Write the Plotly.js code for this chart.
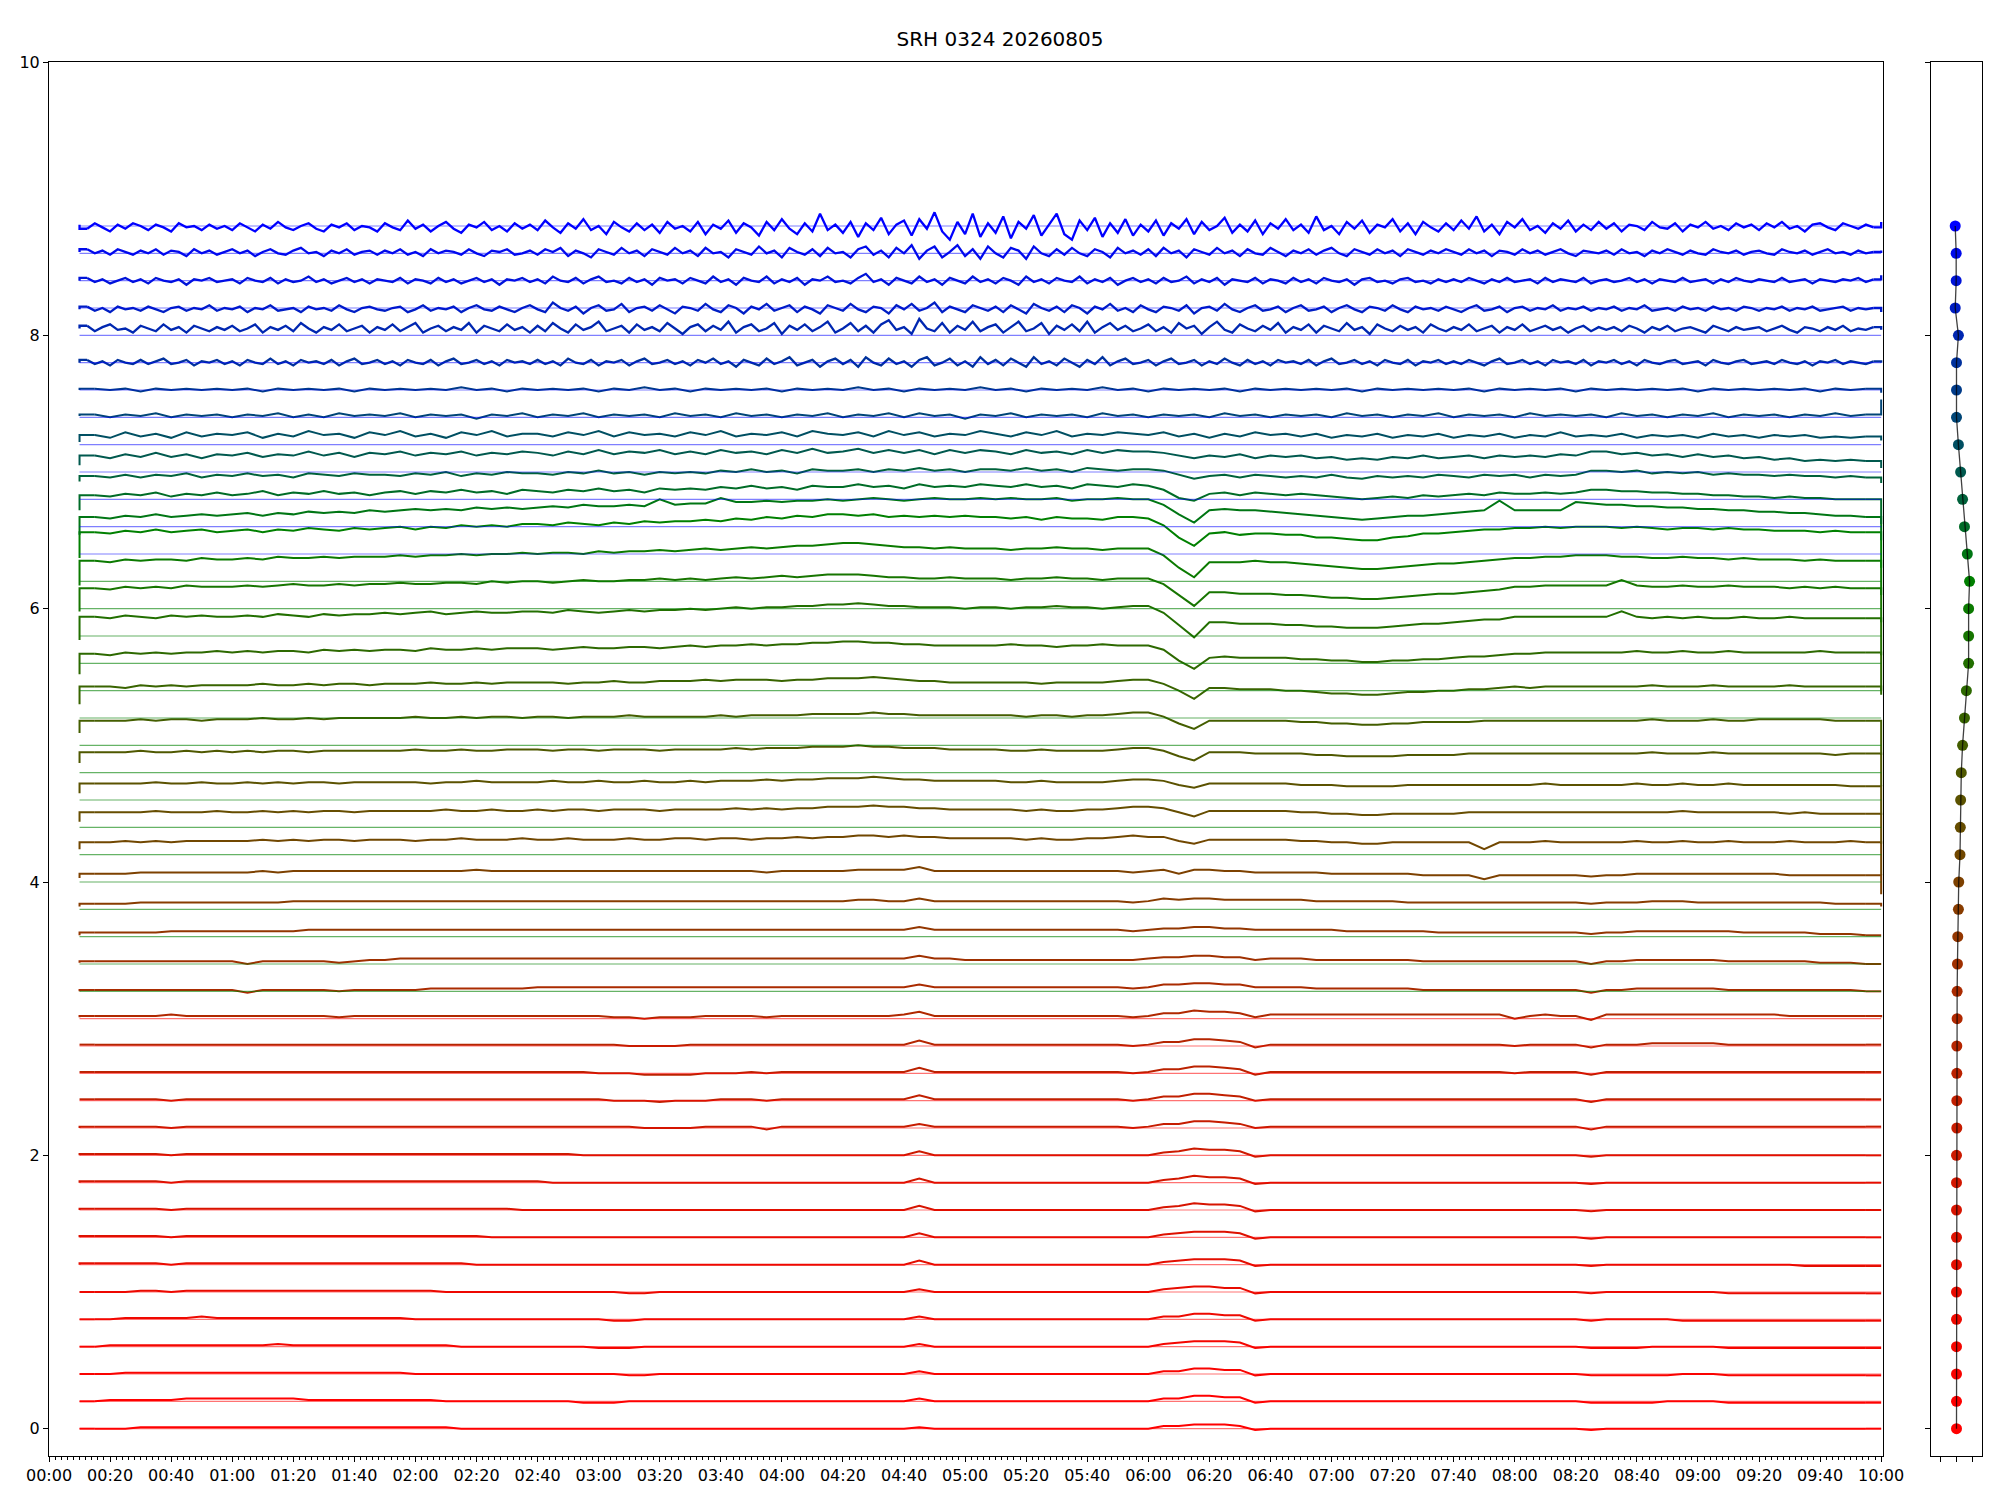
<!DOCTYPE html>
<html>
<head>
<meta charset="utf-8">
<script src="https://cdn.plot.ly/plotly-3.0.1.min.js"></script>
<style>html,body{margin:0;padding:0;background:#fff}#chart{width:2000px;height:1500px}</style>
</head>
<body>
<div id="chart"></div>
<script>
// ---------------- data ----------------
const chartTitle = "SRH 0324 20260805";
// channel base levels (vertical offsets of the 45 channels)
const offsets = [0,0.2,0.4,0.6,0.8,1.0,1.2,1.4,1.6,1.8,2.0,2.2,2.4,2.6,2.8,3.0,3.2,3.4,3.6,3.8,4.0,4.2,4.4,4.6,4.8,5.0,5.2,5.4,5.6,5.8,6.0,6.2,6.4,6.6,6.8,7.0,7.2,7.4,7.6,7.8,8.0,8.2,8.4,8.6,8.8];
// mean deviation of each channel (right panel dots)
const meanDev = [0,0,0,0,0,0,0,0,0,0,0,0.01,0.01,0.01,0.01,0.02,0.02,0.03,0.04,0.06,0.07,0.11,0.12,0.13,0.15,0.19,0.25,0.31,0.38,0.38,0.38,0.41,0.34,0.25,0.19,0.13,0.06,0,0,0,0.06,-0.04,-0.01,-0.01,-0.04];
// time axis (minutes from 00:00)
const tickVals = [0,20,40,60,80,100,120,140,160,180,200,220,240,260,280,300,320,340,360,380,400,420,440,460,480,500,520,540,560,580,600];
const tickText = ["00:00","00:20","00:40","01:00","01:20","01:40","02:00","02:20","02:40","03:00","03:20","03:40","04:00","04:20","04:40","05:00","05:20","05:40","06:00","06:20","06:40","07:00","07:20","07:40","08:00","08:20","08:40","09:00","09:20","09:40","10:00"];
const startMin = 10;     // first sample 00:10
const stepCoarse = 5;    // channels 0..38 sampled every 5 min
const stepFine = 2.5;    // channels 39..44 sampled every 2.5 min
// deviations from the channel level, in hundredths
const ch00 = [0,0,0,0,1,1,1,1,1,1, 1,1,1,1,1,1,1,1,1,1, 1,1,1,1,1,0,0,0,0,0, 0,0,0,0,0,0,0,0,0,0, 0,0,0,0,0,0,0,0,0,0, 0,0,0,0,0,1,0,0,0,0, 0,0,0,0,0,0,0,0,0,0, 0,2,2,3,3,3,2,-1,0,0, 0,0,0,0,0,0,0,0,0,0, 0,0,0,0,0,0,0,0,0,-1, 0,0,0,0,0,0,0,0,0,0, 0,0,0,0,0,0,0,0,0];
const ch01 = [0,0,1,1,1,1,1,2,2,2, 2,2,2,2,2,1,1,1,1,1, 1,1,1,1,0,0,0,0,0,0, 0,0,0,-1,-1,-1,0,0,0,0, 0,0,0,0,0,0,0,0,0,0, 0,0,0,0,0,2,0,0,0,0, 0,0,0,0,0,0,0,0,0,0, 0,2,2,4,4,3,3,-1,0,0, 0,0,0,0,0,0,0,0,0,0, 0,0,0,0,0,0,0,0,0,-1, -1,-1,-1,-1,0,0,0,0,-1,-1, -1,-1,-1,-1,-1,-1,-1,-1,-1];
const ch02 = [0,0,0,1,1,1,1,1,1,1, 1,1,1,1,1,1,1,1,1,1, 1,1,0,0,0,0,0,0,0,0, 0,0,0,0,0,0,-1,-1,0,0, 0,0,0,0,0,0,0,0,0,0, 0,0,0,0,0,2,0,0,0,0, 0,0,0,0,0,0,0,0,0,0, 0,2,2,4,4,3,3,-1,0,0, 0,0,0,0,0,0,0,0,0,0, 0,0,0,0,0,0,0,0,0,-1, -1,-1,-1,-1,-1,0,0,0,-1,-1, -1,-1,-1,-1,-1,-1,-1,-1,-1];
const ch03 = [0,0,1,1,1,1,1,1,1,1, 1,1,1,2,1,1,1,1,1,1, 1,1,1,1,1,0,0,0,0,0, 0,0,0,0,-1,-1,-1,0,0,0, 0,0,0,0,0,0,0,0,0,0, 0,0,0,0,0,2,0,0,0,0, 0,0,0,0,0,0,0,0,0,0, 0,2,3,4,4,4,3,-1,0,0, 0,0,0,0,0,0,0,0,0,0, 0,0,0,0,0,0,0,0,0,-1, -1,-1,-1,0,0,0,0,0,-1,-1, -1,-1,-1,-1,-1,-1,-1,-1,-1];
const ch04 = [0,0,0,1,1,1,1,1,2,1, 1,1,1,1,1,1,1,1,1,1, 1,1,0,0,0,0,0,0,0,0, 0,0,0,0,0,-1,-1,0,0,0, 0,0,0,0,0,0,0,0,0,0, 0,0,0,0,0,2,0,0,0,0, 0,0,0,0,0,0,0,0,0,0, 0,2,2,4,4,3,3,-1,0,0, 0,0,0,0,0,0,0,0,0,0, 0,0,0,0,0,0,0,0,0,-1, 0,0,0,0,0,-1,-1,-1,-1,-1, -1,-1,-1,-1,-1,-1,-1,-1,-1];
const ch05 = [0,0,0,0,1,1,0,1,1,1, 1,1,1,1,1,1,1,1,1,1, 1,1,1,1,0,0,0,0,0,0, 0,0,0,0,0,0,-1,-1,0,0, 0,0,0,0,0,0,0,0,0,0, 0,0,0,0,0,2,0,0,0,0, 0,0,0,0,0,0,0,0,0,0, 0,2,3,4,4,3,3,-1,0,0, 0,0,0,0,0,0,0,0,0,0, 0,0,0,0,0,0,0,0,0,-1, 0,0,0,0,0,0,0,0,-1,-1, -1,-1,-1,-1,-1,-1,-1,-1,-1];
const ch06 = [0,1,1,1,1,1,0,1,1,1, 1,1,1,1,1,1,1,1,1,1, 1,1,1,1,1,1,0,0,0,0, 0,0,0,0,0,0,0,0,0,0, 0,0,0,0,0,0,0,0,0,0, 0,0,0,0,0,3,0,0,0,0, 0,0,0,0,0,0,0,0,0,0, 0,2,3,4,4,4,3,-1,0,0, 0,0,0,0,0,0,0,0,0,0, 0,0,0,0,0,0,0,0,0,-1, 0,0,0,0,0,0,0,0,0,0, 0,0,0,-1,-1,-1,-1,-1,-1];
const ch07 = [0,1,1,1,1,1,0,1,1,1, 1,1,1,1,1,1,1,1,1,1, 1,1,1,1,1,1,1,0,0,0, 0,0,0,0,0,0,0,0,0,0, 0,0,0,0,0,0,0,0,0,0, 0,0,0,0,0,3,0,0,0,0, 0,0,0,0,0,0,0,0,0,0, 0,2,3,4,4,4,3,-1,0,0, 0,0,0,0,0,0,0,0,0,0, 0,0,0,0,0,0,0,0,0,-1, 0,0,0,0,0,0,0,0,0,0, 0,0,0,0,0,0,0,0,0];
const ch08 = [0,1,1,1,1,1,0,1,1,1, 1,1,1,1,1,1,1,1,1,1, 1,1,1,1,1,1,1,1,1,0, 0,0,0,0,0,0,0,0,0,0, 0,0,0,0,0,0,0,0,0,0, 0,0,0,0,0,3,0,0,0,0, 0,0,0,0,0,0,0,0,0,0, 0,2,3,5,4,4,3,-1,0,0, 0,0,0,0,0,0,0,0,0,0, 0,0,0,0,0,0,0,0,0,-1, 0,0,0,0,0,0,0,0,0,0, 0,0,0,0,0,0,0,0,0];
const ch09 = [0,1,1,1,1,1,0,1,1,1, 1,1,1,1,1,1,1,1,1,1, 1,1,1,1,1,1,1,1,1,1, 1,0,0,0,0,0,0,0,0,0, 0,0,0,0,0,0,0,0,0,0, 0,0,0,0,0,3,0,0,0,0, 0,0,0,0,0,0,0,0,0,0, 0,2,3,5,4,4,3,-1,0,0, 0,0,0,0,0,0,0,0,0,0, 0,0,0,0,0,0,0,0,0,-1, 0,0,0,0,0,0,0,0,0,0, 0,0,0,0,0,0,0,0,0];
const ch10 = [0,1,1,1,1,1,0,1,1,1, 1,1,1,1,1,1,1,1,1,1, 1,1,1,1,1,1,1,1,1,1, 1,1,1,0,0,0,0,0,0,0, 0,0,0,0,0,0,0,0,0,0, 0,0,0,0,0,3,0,0,0,0, 0,0,0,0,0,0,0,0,0,0, 0,2,3,5,4,4,3,-1,0,0, 0,0,0,0,0,0,0,0,0,0, 0,0,0,0,0,0,0,0,0,-1, 0,0,0,0,0,0,0,0,0,0, 0,0,0,0,0,0,0,0,0];
const ch11 = [0,1,1,1,1,1,0,1,1,1, 1,1,1,1,1,1,1,1,1,1, 1,1,1,1,1,1,1,1,1,1, 1,1,1,1,1,1,1,0,0,0, 0,1,1,1,1,-1,1,1,1,1, 1,1,1,1,1,3,1,1,1,1, 1,1,1,1,1,1,1,1,1,0, 1,3,3,5,5,4,3,0,1,1, 1,1,1,1,1,1,1,1,1,1, 1,1,1,1,1,1,1,1,1,-1, 1,1,1,1,1,1,1,1,1,1, 1,1,1,1,1,1,1,1,1];
const ch12 = [1,1,1,1,1,1,0,1,1,1, 1,1,1,1,1,1,1,1,1,1, 1,1,1,1,1,1,1,1,1,1, 1,1,1,1,1,0,0,0,-1,0, 0,0,1,1,1,0,1,1,1,1, 1,1,1,1,1,4,1,1,1,1, 1,1,1,1,1,1,1,1,1,0, 1,3,3,5,5,4,3,0,1,1, 1,1,1,1,1,1,1,1,1,1, 1,1,1,1,1,1,1,1,1,-1, 1,1,1,1,1,1,1,1,1,1, 1,1,1,1,1,1,1,1,1];
const ch13 = [1,1,1,1,1,1,1,1,1,1, 1,1,1,1,1,1,1,1,1,1, 1,1,1,1,1,1,1,1,1,1, 1,1,1,1,0,0,0,-1,-1,-1, -1,0,0,0,1,0,1,1,1,1, 1,1,1,1,1,4,1,1,1,1, 1,1,1,1,1,1,1,1,1,0, 1,3,3,5,5,4,3,-1,1,1, 1,1,1,1,1,1,1,1,1,1, 1,1,1,1,0,1,1,1,1,-1, 1,1,1,1,1,1,1,1,1,1, 1,1,1,1,1,1,1,1,1];
const ch14 = [1,1,1,1,1,1,1,1,1,1, 1,1,1,1,1,1,1,1,1,1, 1,1,1,1,1,1,1,1,1,1, 1,1,1,1,1,1,0,0,0,0, 1,1,1,1,1,1,1,1,1,1, 1,1,1,1,1,4,1,1,1,1, 1,1,1,1,1,1,1,1,1,0, 1,3,3,5,5,4,3,-1,1,1, 1,1,1,1,1,1,1,1,1,1, 1,1,1,1,0,1,1,1,1,-1, 1,1,1,2,2,2,2,2,1,1, 1,1,1,1,1,1,1,1,1];
const ch15 = [1,2,2,2,2,2,3,2,2,2, 2,2,2,2,2,2,2,1,2,2, 2,2,2,2,2,2,2,2,2,2, 2,2,2,2,2,1,1,0,1,1, 1,2,2,2,2,1,2,2,2,2, 2,2,2,2,3,5,2,2,2,2, 2,2,2,2,2,2,2,2,2,1, 2,4,4,6,5,5,4,1,3,3, 3,3,3,3,3,3,3,3,3,3, 3,3,3,3,0,2,3,2,2,-1, 3,3,3,3,3,3,3,3,3,3, 3,3,2,2,2,2,2,2,1];
const ch16 = [0,1,1,1,1,1,1,1,1,1, 1,-1,1,1,1,1,1,0,1,1, 1,1,1,2,2,2,2,2,2,2, 3,3,3,3,3,3,3,3,3,3, 3,3,3,3,3,3,3,3,3,3, 3,3,3,3,3,5,3,3,3,3, 3,3,3,3,3,3,3,3,3,2, 3,5,5,6,6,5,5,3,3,3, 3,2,2,2,2,2,2,2,1,1, 1,1,1,1,1,1,1,1,1,-1, 1,1,2,2,2,2,2,2,1,1, 1,1,1,1,1,1,1,0,0];
const ch17 = [1,2,2,2,2,2,2,2,2,2, 2,0,2,2,2,2,2,1,2,3, 3,4,4,4,4,4,4,4,4,4, 4,4,4,4,4,4,4,4,4,4, 4,4,4,4,4,4,4,4,4,4, 4,4,4,4,4,6,4,4,3,3, 3,3,3,3,3,3,3,3,3,3, 4,5,5,6,6,5,5,3,4,4, 4,3,3,3,3,3,3,3,2,2, 2,2,2,2,2,2,2,2,2,0, 2,2,3,3,3,3,3,3,2,2, 2,2,2,2,1,1,1,0,0];
const ch18 = [1,3,3,3,3,3,4,4,4,4, 4,4,4,4,4,5,5,5,5,5, 5,5,5,5,5,5,5,5,5,5, 5,5,5,5,5,5,5,5,5,5, 5,5,5,5,5,5,5,5,5,5, 5,5,5,5,5,7,5,5,5,5, 5,5,5,5,5,5,5,5,5,4, 5,6,6,7,7,6,6,5,5,5, 5,5,5,4,4,4,4,4,4,3, 3,3,3,3,3,3,3,3,3,2, 3,3,4,4,4,4,4,4,4,3, 3,3,3,3,2,2,2,1,1];
const ch19 = [2,4,4,4,5,5,5,5,5,5, 5,5,5,5,6,6,6,6,6,6, 6,6,6,6,6,6,6,6,6,6, 6,6,6,6,6,6,6,6,6,6, 6,6,6,6,6,6,6,6,6,6, 6,7,7,6,6,8,6,6,6,6, 6,6,6,6,6,6,6,6,6,5, 6,8,7,8,8,7,7,7,7,7, 7,6,6,6,6,6,6,5,5,5, 5,5,5,5,5,5,5,5,5,4, 5,5,5,6,6,6,5,5,5,5, 5,5,5,5,5,4,4,4,2];
const ch20 = [3,6,6,6,7,7,7,7,7,7, 7,7,8,7,8,8,8,8,8,8, 8,8,8,8,8,8,9,8,8,8, 8,8,8,8,8,8,8,8,8,8, 8,8,8,8,8,7,8,8,8,8, 8,9,9,9,9,11,8,8,8,8, 8,8,8,8,8,8,8,8,8,7, 8,9,6,9,9,8,8,7,7,7, 7,7,6,6,6,6,6,6,5,5, 5,5,2,5,5,5,5,5,5,4, 5,5,6,6,6,6,6,6,6,6, 6,6,5,5,5,5,5,5,-9];
const ch21 = [4,9,9,10,9,10,9,10,10,10, 10,10,11,10,11,10,11,11,10,11, 11,11,10,11,11,12,11,11,11,12, 11,11,12,11,11,11,12,11,11,12, 12,11,12,12,11,12,12,13,12,13, 13,14,14,13,14,13,13,12,12,12, 12,12,11,12,11,11,12,12,13,14, 13,13,10,8,11,11,11,11,11,11, 10,10,9,9,8,8,9,9,9,9, 9,9,4,9,9,9,10,9,9,9, 9,9,10,9,9,10,9,9,10,9, 9,9,10,9,9,9,10,9,-15];
const ch22 = [4,11,11,11,11,12,11,11,11,12, 11,11,12,11,12,11,12,12,11,12, 12,12,12,12,13,12,12,13,12,12, 13,12,13,13,12,13,13,13,12,13, 13,13,13,14,13,14,13,14,14,15, 15,15,16,15,15,14,14,13,13,13, 13,13,12,13,12,12,13,13,14,15, 15,14,11,8,12,12,12,12,12,12, 11,11,10,10,9,9,10,10,10,10, 10,11,11,11,11,11,11,11,11,11, 11,11,11,11,11,12,11,11,11,11, 11,11,10,11,10,10,10,10,-12];
const ch23 = [5,12,12,12,12,13,12,12,13,12, 12,13,12,13,12,13,13,12,13,13, 13,13,13,12,13,13,14,13,13,13, 13,14,13,13,14,13,13,14,13,13, 14,13,14,14,14,15,14,15,15,16, 16,16,17,16,15,15,14,14,14,14, 14,13,13,14,13,13,13,13,14,15, 15,14,11,9,12,12,12,12,12,12, 11,11,11,10,10,10,10,11,11,11, 11,11,11,11,11,11,12,11,11,11, 11,11,12,11,11,12,11,11,12,11, 11,11,11,11,11,11,10,10,-11];
const ch24 = [7,15,15,15,16,15,15,16,15,16, 15,16,15,16,16,15,16,16,16,16, 16,16,17,16,16,17,16,16,17,17, 17,16,17,17,16,17,17,17,16,17, 17,17,17,18,17,18,18,18,19,19, 19,20,19,19,18,18,18,17,17,17, 17,16,16,17,16,16,16,16,17,18, 18,16,12,9,15,15,15,14,14,14, 14,13,13,12,12,12,12,13,13,13, 13,14,14,14,14,14,14,14,14,14, 14,14,14,15,14,14,14,15,14,14, 14,14,14,14,14,13,14,14,-10];
const ch25 = [9,18,18,18,19,18,19,19,18,19, 19,19,20,19,19,20,19,20,20,20, 20,20,21,20,20,21,20,21,21,20, 21,21,20,21,21,21,22,21,21,21, 21,21,22,21,22,22,22,22,23,23, 23,23,24,23,23,22,22,22,22,22, 22,22,21,22,22,21,22,22,23,24, 24,21,16,12,18,18,18,18,18,18, 17,17,16,16,15,15,16,16,17,17, 17,17,18,18,18,18,18,18,18,18, 18,18,18,19,18,18,18,19,18,18, 19,19,19,19,19,18,18,18,-7];
const ch26 = [10,23,23,22,24,23,24,23,24,24, 24,24,25,24,24,25,24,25,25,24, 25,25,25,26,25,25,26,25,26,26, 26,26,25,26,26,27,26,26,27,27, 27,28,27,28,28,28,27,28,28,29, 29,29,30,29,28,27,27,26,26,26, 26,26,26,25,26,26,26,26,27,28, 28,25,20,14,22,22,21,21,21,20, 20,19,18,18,17,17,18,19,19,20, 20,21,21,22,23,22,23,23,23,23, 23,23,23,24,23,23,23,24,23,23, 23,23,24,23,23,23,23,23,20];
const ch27 = [12,27,26,28,27,28,27,28,28,29, 28,29,28,29,29,28,30,29,30,29, 30,30,29,31,30,30,31,30,31,31, 31,30,31,32,31,31,32,32,31,32, 33,32,33,33,34,33,34,34,35,35, 36,36,35,35,34,34,33,33,33,33, 33,34,33,33,32,33,33,34,33,33, 33,30,22,16,24,25,24,24,24,24, 23,23,22,22,21,21,22,22,23,23, 24,25,25,26,27,27,28,28,28,28, 28,28,29,28,28,29,28,28,29,28, 28,28,28,28,29,28,28,28,-3];
const ch28 = [17,34,33,35,34,33,35,34,35,34, 34,35,34,36,35,34,36,35,36,36, 37,36,37,38,36,37,38,37,37,38, 38,37,39,38,37,38,39,38,39,39, 40,39,40,41,40,41,41,42,42,43, 43,44,43,42,42,41,41,41,40,41, 41,40,41,41,42,41,41,40,41,42, 42,37,28,19,30,30,29,29,29,28, 28,27,27,26,26,26,27,28,29,29, 30,31,32,32,34,34,34,34,34,34, 34,38,34,33,34,33,34,33,33,34, 33,33,34,33,33,33,33,33,6];
const ch29 = [18,35,34,36,35,36,35,37,36,36, 36,37,36,37,38,37,37,38,37,38, 38,39,38,38,39,39,38,40,39,40, 40,39,40,41,40,40,41,41,42,41, 42,41,42,43,42,43,44,43,44,45, 45,45,44,43,43,42,42,43,42,42, 42,41,42,42,43,42,42,41,42,42, 42,38,30,22,32,32,31,31,31,30, 30,29,28,28,27,27,28,29,30,31, 31,32,33,34,36,36,37,37,37,37, 37,41,37,36,36,37,36,36,37,36, 36,36,35,36,35,36,35,35,10];
const ch30 = [17,35,34,36,35,36,36,35,37,36, 36,37,36,38,37,37,38,37,38,38, 38,39,38,39,39,40,39,40,40,41, 40,41,41,40,42,41,42,42,43,42, 43,44,43,44,45,44,45,46,46,47, 48,48,47,46,45,45,44,45,44,44, 44,43,44,44,45,44,44,43,44,44, 44,39,30,23,34,34,34,35,34,34, 33,32,31,30,29,29,30,31,32,33, 33,34,35,36,37,37,38,38,39,39, 39,38,38,37,37,38,37,37,36,37, 36,36,36,35,36,35,35,35,10];
const ch31 = [17,36,35,37,36,38,36,37,38,36, 37,38,36,38,37,39,38,37,39,38, 39,40,38,40,39,41,40,41,40,42, 42,41,43,42,41,43,42,44,43,44, 44,45,44,46,45,47,46,48,47,49, 49,48,49,47,48,47,48,47,48,47, 47,46,47,45,47,46,46,45,47,47, 46,41,32,26,35,36,34,35,35,34, 34,32,32,31,30,30,32,33,35,35, 36,37,38,38,39,39,40,39,40,40, 40,39,40,39,38,39,39,38,39,38, 38,37,37,37,36,37,36,36,10];
const ch32 = [14,27,26,28,27,29,27,28,29,28, 29,30,28,30,29,31,30,31,30,32, 31,32,33,32,33,32,34,33,34,33, 34,35,34,36,35,35,36,35,40,36, 37,37,41,38,38,39,38,39,39,40, 39,40,41,40,39,40,41,40,40,41, 40,41,40,40,41,39,40,40,41,40, 40,36,29,23,32,33,32,32,31,30, 29,28,27,26,25,26,27,28,28,29, 30,31,32,39,32,32,32,32,38,37, 36,36,35,35,34,34,33,33,32,32, 31,31,30,30,29,28,28,27,10];
const ch33 = [12,23,22,24,23,25,22,24,23,25, 23,24,26,23,25,24,26,24,25,23, 25,26,24,26,25,27,25,26,24,27, 26,25,27,26,28,26,27,25,28,27, 28,27,29,28,30,28,29,27,30,29, 29,31,29,30,28,31,29,30,29,31, 30,29,31,29,30,28,31,30,29,31, 30,27,21,19,24,25,23,25,24,23, 24,23,22,21,20,21,22,21,23,22, 23,24,23,25,24,24,25,24,25,27, 27,26,26,25,25,24,24,23,23,22, 22,21,22,21,21,20,20,20,2];
const ch34 = [13,17,16,18,16,18,17,19,16,18, 17,19,17,18,16,19,18,17,19,18, 18,17,19,18,20,17,19,18,20,19, 19,18,20,19,21,19,20,18,20,19, 20,19,21,20,22,20,21,19,22,21, 21,22,20,22,21,23,21,22,20,22, 22,21,23,21,22,20,23,22,21,22, 22,21,18,15,17,18,16,18,17,16, 17,16,18,16,15,17,16,17,16,18, 17,16,18,17,18,16,18,17,18,21, 21,20,21,19,20,19,20,18,19,18, 18,17,18,17,17,16,17,16,12];
const ch35 = [5,12,10,13,11,14,11,13,10,13, 12,14,11,13,12,15,12,14,11,14, 13,15,12,14,13,15,12,14,13,15, 14,12,15,13,16,13,15,14,16,13, 15,13,16,14,15,13,16,14,17,14, 15,17,14,16,14,16,13,16,14,16, 15,13,16,14,15,13,16,14,16,15, 15,14,12,10,12,11,13,10,12,11, 12,10,11,9,10,9,11,10,12,10, 11,12,10,12,11,12,11,13,12,15, 15,13,14,12,13,11,13,11,12,10, 11,9,10,8,9,8,9,8,3];
const ch36 = [2,7,5,9,6,8,5,9,6,8, 7,9,5,8,6,10,7,8,5,9, 7,10,6,8,5,9,7,10,6,8, 8,6,9,7,10,6,9,7,8,6, 9,7,10,6,8,7,9,6,10,8, 7,9,6,10,7,9,6,8,7,10, 8,6,9,7,10,6,8,7,9,8, 7,9,6,8,5,8,6,9,7,8, 6,8,5,7,6,8,5,7,6,8, 5,7,6,8,5,7,6,9,6,7, 6,8,5,7,6,7,5,8,6,7, 5,7,6,7,5,6,5,6,3];
const ch37 = [1,2,0,2,1,3,0,2,1,2, 0,2,1,3,0,2,0,3,1,2, 1,3,0,2,1,2,-1,2,1,3, 0,2,1,3,0,2,1,2,0,3, 1,2,0,3,1,2,0,2,1,3, 0,2,1,3,0,3,1,2,-1,2, 1,3,0,2,1,2,0,3,1,2, 0,2,1,2,0,3,1,2,0,2, 1,2,0,3,1,2,0,2,1,3, 0,2,1,2,0,3,1,2,1,2, 0,3,1,2,0,2,1,3,0,2, 1,2,0,2,1,3,1,2,13];
const ch38 = [0,1,0,1,-1,1,0,1,0,1, 0,1,-1,1,0,1,0,1,-1,1, 0,1,0,1,0,2,0,1,-1,1, 0,1,0,1,-1,1,0,2,0,1, -1,1,0,1,0,1,-1,1,0,1, 0,2,0,1,-1,1,0,1,0,2, 0,1,-1,1,0,1,0,2,0,1, -1,1,0,1,0,1,-1,1,0,1, 0,1,0,1,-1,1,0,1,0,1, 0,1,-1,1,0,1,0,1,-1,1, 0,1,0,1,0,1,-1,1,0,1, 0,1,0,1,-1,1,0,1,-2];
const ch39 = [0,2,-1,1,-2,2,0,-1,2,-1,1,3,-1,0,2,-2,1,0,2,-1,
 1,-2,2,0,-1,3,-1,1,-2,2,0,1,-1,2,-2,1,3,-1,0,2,
 -1,1,-2,2,0,-1,2,-2,1,3,-1,0,2,-1,1,-2,2,0,1,-1,
 2,-1,1,-2,3,0,-1,2,-2,1,0,2,-2,1,3,-1,0,2,-1,1,
 -2,2,0,3,-1,1,-3,2,0,-2,3,-1,1,4,-2,0,2,-3,1,3,
 -1,2,-3,4,0,-2,3,-1,1,-3,2,4,-2,0,3,-2,1,-3,4,-1,
 2,-2,3,0,-3,4,-1,1,-2,3,0,-3,2,-1,4,-2,1,3,-1,0,
 2,-2,1,3,-1,0,2,-2,1,-1,3,0,-2,2,-1,1,-2,2,0,1,
 -1,2,-2,1,3,-1,0,2,-1,1,-2,2,0,-1,2,-2,1,0,2,-1,
 1,-1,2,0,-2,1,3,-1,0,2,-1,1,-2,2,0,1,-1,2,-2,1,
 0,2,-1,1,-2,2,0,-1,1,2,-1,0,1,-2,2,0,-1,1,2,-1,
 0,1,-1,2,0,-1,1,-2,1,0,2,-1,1,0,-1,1,0];
const ch40 = [5,7,3,6,8,4,5,2,7,5,3,8,4,6,2,7,5,3,6,4,
 7,3,5,8,2,6,4,7,3,9,5,2,6,4,8,3,5,7,2,6,
 4,8,3,6,9,2,5,7,3,6,4,9,2,7,5,3,8,4,6,2,
 7,3,9,5,2,8,4,6,10,3,5,7,2,8,4,6,3,9,5,1,
 6,8,3,7,4,10,2,6,8,3,5,9,1,7,4,8,3,6,10,2,
 5,9,3,7,2,8,11,4,6,1,12,5,3,9,2,7,4,10,3,6,
 8,2,6,10,3,5,9,1,7,4,8,3,10,2,6,9,4,7,3,5,
 8,3,6,2,9,5,7,1,6,10,4,2,8,5,3,7,4,9,2,6,
 4,8,2,7,5,3,9,4,6,1,8,5,3,7,4,6,2,8,5,3,
 6,4,8,3,5,7,2,6,4,8,3,5,7,4,6,2,5,7,3,6,
 4,6,3,7,5,2,6,4,7,3,5,6,4,2,7,5,3,6,4,5,
 6,3,5,7,4,2,6,5,3,6,4,7,3,5,4,6,4];
const ch41 = [-1,1,-2,0,-3,1,-1,0,-2,1,-1,-3,0,1,-2,0,-1,2,-2,0,
 -1,1,-3,0,-1,2,-2,-1,0,-3,1,-1,0,-2,2,-1,-3,0,1,-1,
 -2,0,1,-3,-1,2,-2,0,-1,1,-3,0,2,-1,-2,1,-1,-3,0,2,
 -1,-3,4,0,-2,1,-4,0,2,-2,-1,3,-3,0,1,-2,2,-1,-4,1,
 0,-2,3,-1,-3,2,0,-4,1,-1,3,-2,0,2,-3,1,-1,-4,2,0,
 -2,3,-1,-3,1,0,-4,2,-1,3,-2,0,4,-3,1,-1,-3,2,0,-2,
 1,-3,2,-1,-4,3,0,-2,1,-3,2,0,-4,1,-1,3,-2,0,-3,2,
 -1,-3,1,0,-2,2,-4,0,1,-2,3,-1,-3,0,2,-2,-1,1,-3,0,
 2,-2,-1,1,-3,0,2,-1,-3,1,0,-2,2,-1,-3,1,-1,0,-2,1,
 -1,-3,0,2,-2,-1,1,-3,0,1,-2,0,-1,2,-2,0,-1,1,-2,0,
 -1,1,-2,0,-1,2,-2,-1,0,-2,1,-1,0,-2,1,-1,0,-2,1,0,
 -2,0,-1,1,-2,0,-1,1,-2,-1,0,1,-2,0,-1,0,-3];
const ch42 = [0,2,-1,1,-2,0,2,-1,1,-2,2,0,-1,1,-3,1,0,2,-1,0,
 1,-2,2,0,-1,2,-2,1,-1,0,3,-1,1,-2,0,2,-1,1,-2,1,
 0,-1,2,-2,1,0,-2,2,-1,1,-2,0,2,-1,1,-3,1,0,2,-1,
 1,-2,3,0,-1,2,-2,1,3,-1,0,-2,2,-1,1,-3,2,0,1,-2,
 2,0,-2,3,-1,1,-3,2,0,-1,3,-2,1,-1,2,-3,1,0,3,-1,
 0,-2,2,5,-1,1,-3,2,0,-2,3,-1,1,-3,2,0,-2,3,-1,1,
 -2,2,0,-3,3,-1,1,-2,2,0,-1,3,-2,1,-1,2,-3,0,2,-1,
 1,-2,2,-1,0,3,-2,1,-1,2,-3,1,0,-1,2,-2,1,0,-2,2,
 -1,1,-2,2,0,-1,1,-3,1,2,-1,0,-2,1,2,-1,0,-2,1,-1,
 1,-1,2,0,-2,1,-1,2,-1,0,1,-2,2,-1,1,0,-1,2,-2,0,
 1,-1,0,2,-1,1,-2,1,0,-1,2,-1,0,1,-2,1,-1,2,0,-1,
 1,0,-1,2,-1,0,1,-2,1,0,-1,1,0,2,-1,1,4];
const ch43 = [1,3,0,2,-1,3,1,-1,2,0,3,-1,2,1,-2,3,0,2,-1,1,
 3,0,2,-2,1,3,0,-1,2,4,0,1,-2,2,0,3,-1,1,2,-1,
 2,0,3,-1,1,-2,3,0,2,1,-1,3,0,-2,2,1,3,-1,0,2,
 -1,3,1,4,-2,2,0,-3,3,1,-1,4,0,2,-2,3,1,-1,4,0,
 2,-2,4,0,1,-3,3,1,-1,5,0,2,-3,4,1,-1,3,-2,4,0,
 1,-3,3,5,-1,2,-3,4,0,6,-4,2,5,-3,1,6,-2,3,-4,5,
 0,-3,4,2,-4,5,0,-2,3,-1,4,0,-2,3,1,-3,4,0,2,-1,
 3,-2,4,0,2,-3,3,1,-1,4,0,2,-2,3,0,-1,4,1,-2,2,
 0,3,-1,2,4,0,-2,3,1,-1,3,0,2,-2,3,1,-1,2,0,3,
 1,-1,3,0,2,-2,2,1,-1,3,0,2,-1,1,3,0,-2,2,1,0,
 2,-1,3,0,1,-2,2,0,3,1,-1,2,0,-1,3,1,0,2,-1,1,
 2,0,-1,3,1,0,2,-1,1,3,0,1,-1,2,0,1,2];
const ch44 = [1,-2,2,-1,-4,1,-2,2,0,-3,1,-1,-4,2,-1,0,-3,1,-2,0,
 -3,2,-1,-4,1,-2,3,-1,-3,0,2,-2,-4,1,-1,2,-3,0,-1,-4,
 2,-1,-3,4,-2,1,-4,0,3,-2,-5,1,-1,3,-3,0,-4,2,-2,1,
 -3,4,-1,-5,2,-2,5,-3,0,-6,3,-1,-4,2,-3,1,-5,3,-2,0,
 -4,3,-6,1,-2,4,-5,2,-1,-7,3,-3,5,-2,-6,2,-4,9,-3,1,
 -5,3,-8,2,-3,6,-6,1,4,-7,5,-2,10,-4,-10,3,-6,9,-8,2,
 -5,7,-9,3,-2,8,-7,1,9,-6,-10,4,-3,6,-8,2,-5,5,-7,1,
 -4,4,-7,2,-2,5,-6,3,-3,0,6,-5,1,-4,4,-6,2,-2,5,-3,
 1,-5,7,-3,0,-6,3,-2,4,-5,1,-1,5,-4,2,-6,3,-1,-4,2,
 -3,4,-2,7,-4,1,-6,3,-1,5,-3,0,-5,2,-2,4,-4,1,-3,3,
 -2,2,-4,1,0,-3,3,-1,-2,2,-4,1,-1,3,-2,0,-3,2,-1,1,
 -3,2,-1,3,-2,0,-4,1,2,-1,-3,2,0,-2,1,-1,3];

const channels = [ch00,ch01,ch02,ch03,ch04,ch05,ch06,ch07,ch08,ch09,ch10,ch11,ch12,ch13,ch14,ch15,ch16,ch17,ch18,ch19,ch20,ch21,ch22,ch23,ch24,ch25,ch26,ch27,ch28,ch29,ch30,ch31,ch32,ch33,ch34,ch35,ch36,ch37,ch38,ch39,ch40,ch41,ch42,ch43,ch44];
const firstFineChannel = 39;

// ---------------- styling ----------------
function chanColor(i){
  let r,g,b;
  if (i <= 31){
    const f = i < 16 ? 2.8 + 0.2*i : 6.0 + 0.4*(i-16);
    const s = Math.max(0, Math.min(1, (f-3)/9));
    r = 255*(1-s); g = 128*s; b = 0;
  } else {
    const u = (i-31)/13;
    r = 0; g = 128*(1-u); b = 255*u;
  }
  return 'rgb(' + Math.round(r) + ',' + Math.round(g) + ',' + Math.round(b) + ')';
}
function groupColor(k){
  if (k <= 15) return 'rgba(255,0,0,0.55)';
  if (k <= 31) return 'rgba(0,128,0,0.6)';
  return 'rgba(0,0,255,0.5)';
}

const traces = [];
channels.forEach(function(dev, i){
  const step = i >= firstFineChannel ? stepFine : stepCoarse;
  const ys = dev.map(function(v){ return offsets[i] + v/100; });
  const n = ys.length;
  const col = chanColor(i);
  const w = i >= firstFineChannel ? 2.3 : 2;
  // first sample: vertical rise at 00:10
  traces.push({type:'scatter', mode:'lines', x:[startMin, startMin + step], y:[ys[0], ys[1]],
    line:{color:col, width:w, shape:'vh'}, xaxis:'x', yaxis:'y', hoverinfo:'skip'});
  // body
  traces.push({type:'scatter', mode:'lines', x0:startMin + step, dx:step, y: ys.slice(1, n-1),
    line:{color:col, width:w}, xaxis:'x', yaxis:'y', hoverinfo:'skip'});
  // last sample: vertical step at 10:00
  traces.push({type:'scatter', mode:'lines', x:[startMin + step*(n-2), startMin + step*(n-1)], y:[ys[n-2], ys[n-1]],
    line:{color:col, width:w, shape:'hv'}, xaxis:'x', yaxis:'y', hoverinfo:'skip'});
});
// thin reference lines at each channel level, grouped by colour
[[0,15],[16,31],[32,44]].forEach(function(gr){
  const xs = [], ys = [];
  for (let k = gr[0]; k <= gr[1]; k++){
    xs.push(startMin, 600, null);
    ys.push(offsets[k], offsets[k], null);
  }
  traces.push({type:'scatter', mode:'lines', x: xs, y: ys, connectgaps:false,
    line:{color: groupColor(gr[0]), width: 1.2}, xaxis:'x', yaxis:'y', hoverinfo:'skip'});
});
// right panel
traces.push({type:'scatter', mode:'markers', x: meanDev, y: offsets,
  marker:{color: offsets.map(function(_, i){ return chanColor(i); }), size: 11},
  xaxis:'x2', yaxis:'y2', hoverinfo:'skip'});
traces.push({type:'scatter', mode:'lines', x: meanDev, y: offsets,
  line:{color:'rgba(0,0,0,0.75)', width: 1.3}, xaxis:'x2', yaxis:'y2', hoverinfo:'skip'});

const axisBase = {showgrid:false, zeroline:false, showline:true, linecolor:'black', linewidth:1,
  mirror:true, ticks:'outside', ticklen:5, tickwidth:1, tickcolor:'black'};
const yDomain = [1 - 1456/1500, 1 - 62/1500];

const layout = {
  width:2000, height:1500,
  margin:{l:0, r:0, t:0, b:0},
  paper_bgcolor:'white', plot_bgcolor:'white',
  showlegend:false,
  font:{family:'DejaVu Sans, sans-serif', size:16, color:'black'},
  title:{text: chartTitle, x:0.5, xref:'container', xanchor:'center', y: 1 - 39/1500, yref:'container', yanchor:'middle',
    font:{family:'DejaVu Sans, sans-serif', size:20, color:'black'}},
  xaxis: Object.assign({}, axisBase, {domain:[49/2000, 1883/2000], range:[0,600.6], anchor:'y',
    tickmode:'array', tickvals: tickVals, ticktext: tickText,
    tickfont:{size:16},
    minor:{dtick:2, tick0:0, ticks:'outside', ticklen:3, tickcolor:'black', showgrid:false}}),
  yaxis: Object.assign({}, axisBase, {domain: yDomain, range:[-0.2,10], anchor:'x',
    tickmode:'array', tickvals:[0,2,4,6,8,10], ticktext:['0','2','4','6','8','10'], tickfont:{size:16}}),
  xaxis2: Object.assign({}, axisBase, {domain:[1931/2000, 1982/2000], range:[-0.8,0.8], anchor:'y2',
    tickmode:'array', tickvals:[-0.5,0,0.5], showticklabels:false}),
  yaxis2: Object.assign({}, axisBase, {domain: yDomain, range:[-0.2,10], anchor:'x2',
    tickmode:'array', tickvals:[0,2,4,6,8,10], showticklabels:false})
};

Plotly.newPlot('chart', traces, layout, {staticPlot:true, displayModeBar:false});
</script>
</body>
</html>
